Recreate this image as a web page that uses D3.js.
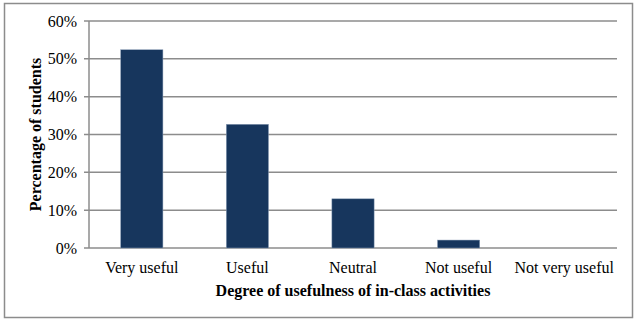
<!DOCTYPE html>
<html><head><meta charset="utf-8">
<script src="https://cdn.jsdelivr.net/npm/d3@7"></script>
<style>html,body{margin:0;padding:0;background:#fff;} text{font-family:"Liberation Serif","Times New Roman","DejaVu Serif",serif;}</style>
</head><body>
<svg id="c" width="640" height="323"></svg>
<script>
const categories = ["Very useful", "Useful", "Neutral", "Not useful", "Not very useful"];
const values = [52.4, 32.7, 13.0, 2.1, 0];
const yTicks = [0, 10, 20, 30, 40, 50, 60];
const yTitle = "Percentage of students";
const xTitle = "Degree of usefulness of in-class activities";

const svg = d3.select("#c");
svg.append("rect").attr("x", 4.5).attr("y", 3.5).attr("width", 628).attr("height", 314)
  .attr("fill", "#fff").attr("stroke", "#8c8c8c").attr("stroke-width", 1.5);

const m = {l: 89, r: 617, t: 21, b: 248};
const x = d3.scaleBand().domain(categories).range([m.l, m.r]).paddingInner(0.6).paddingOuter(0.3);
const y = d3.scaleLinear().domain([0, 60]).range([m.b, m.t]);

const g = svg.append("g");
g.selectAll(".grid").data(yTicks).enter().append("line")
  .attr("x1", m.l - 5).attr("x2", m.r).attr("y1", d => y(d)).attr("y2", d => y(d))
  .attr("stroke", "#8c8c8c").attr("stroke-width", 1.5);
g.append("line").attr("x1", m.l).attr("x2", m.l).attr("y1", m.t).attr("y2", m.b)
  .attr("stroke", "#8c8c8c").attr("stroke-width", 1.5);

g.selectAll(".bar").data(values).enter().append("rect")
  .attr("x", (d, i) => x(categories[i])).attr("width", x.bandwidth())
  .attr("y", d => y(d)).attr("height", d => m.b - y(d))
  .attr("fill", "#17365d").attr("stroke", "#8da0b8").attr("stroke-width", 0.5);

g.selectAll(".yt").data(yTicks).enter().append("text")
  .attr("x", 77).attr("y", d => y(d)).attr("dy", "0.35em").attr("text-anchor", "end")
  .style("font-size", "16px").attr("fill", "#000").text(d => d + "%");

g.selectAll(".xt").data(categories).enter().append("text")
  .attr("x", d => x(d) + x.bandwidth() / 2).attr("y", 273).attr("text-anchor", "middle")
  .style("font-size", "16px").attr("fill", "#000").text(d => d);

svg.append("text").attr("transform", "translate(41," + ((m.t + m.b) / 2) + ") rotate(-90)")
  .attr("text-anchor", "middle").style("font-size", "16px")
  .style("font-weight", "bold").text(yTitle);
svg.append("text").attr("x", 353).attr("y", 296).attr("text-anchor", "middle")
  .style("font-size", "16px").style("font-weight", "bold").text(xTitle);
</script>
</body></html>
